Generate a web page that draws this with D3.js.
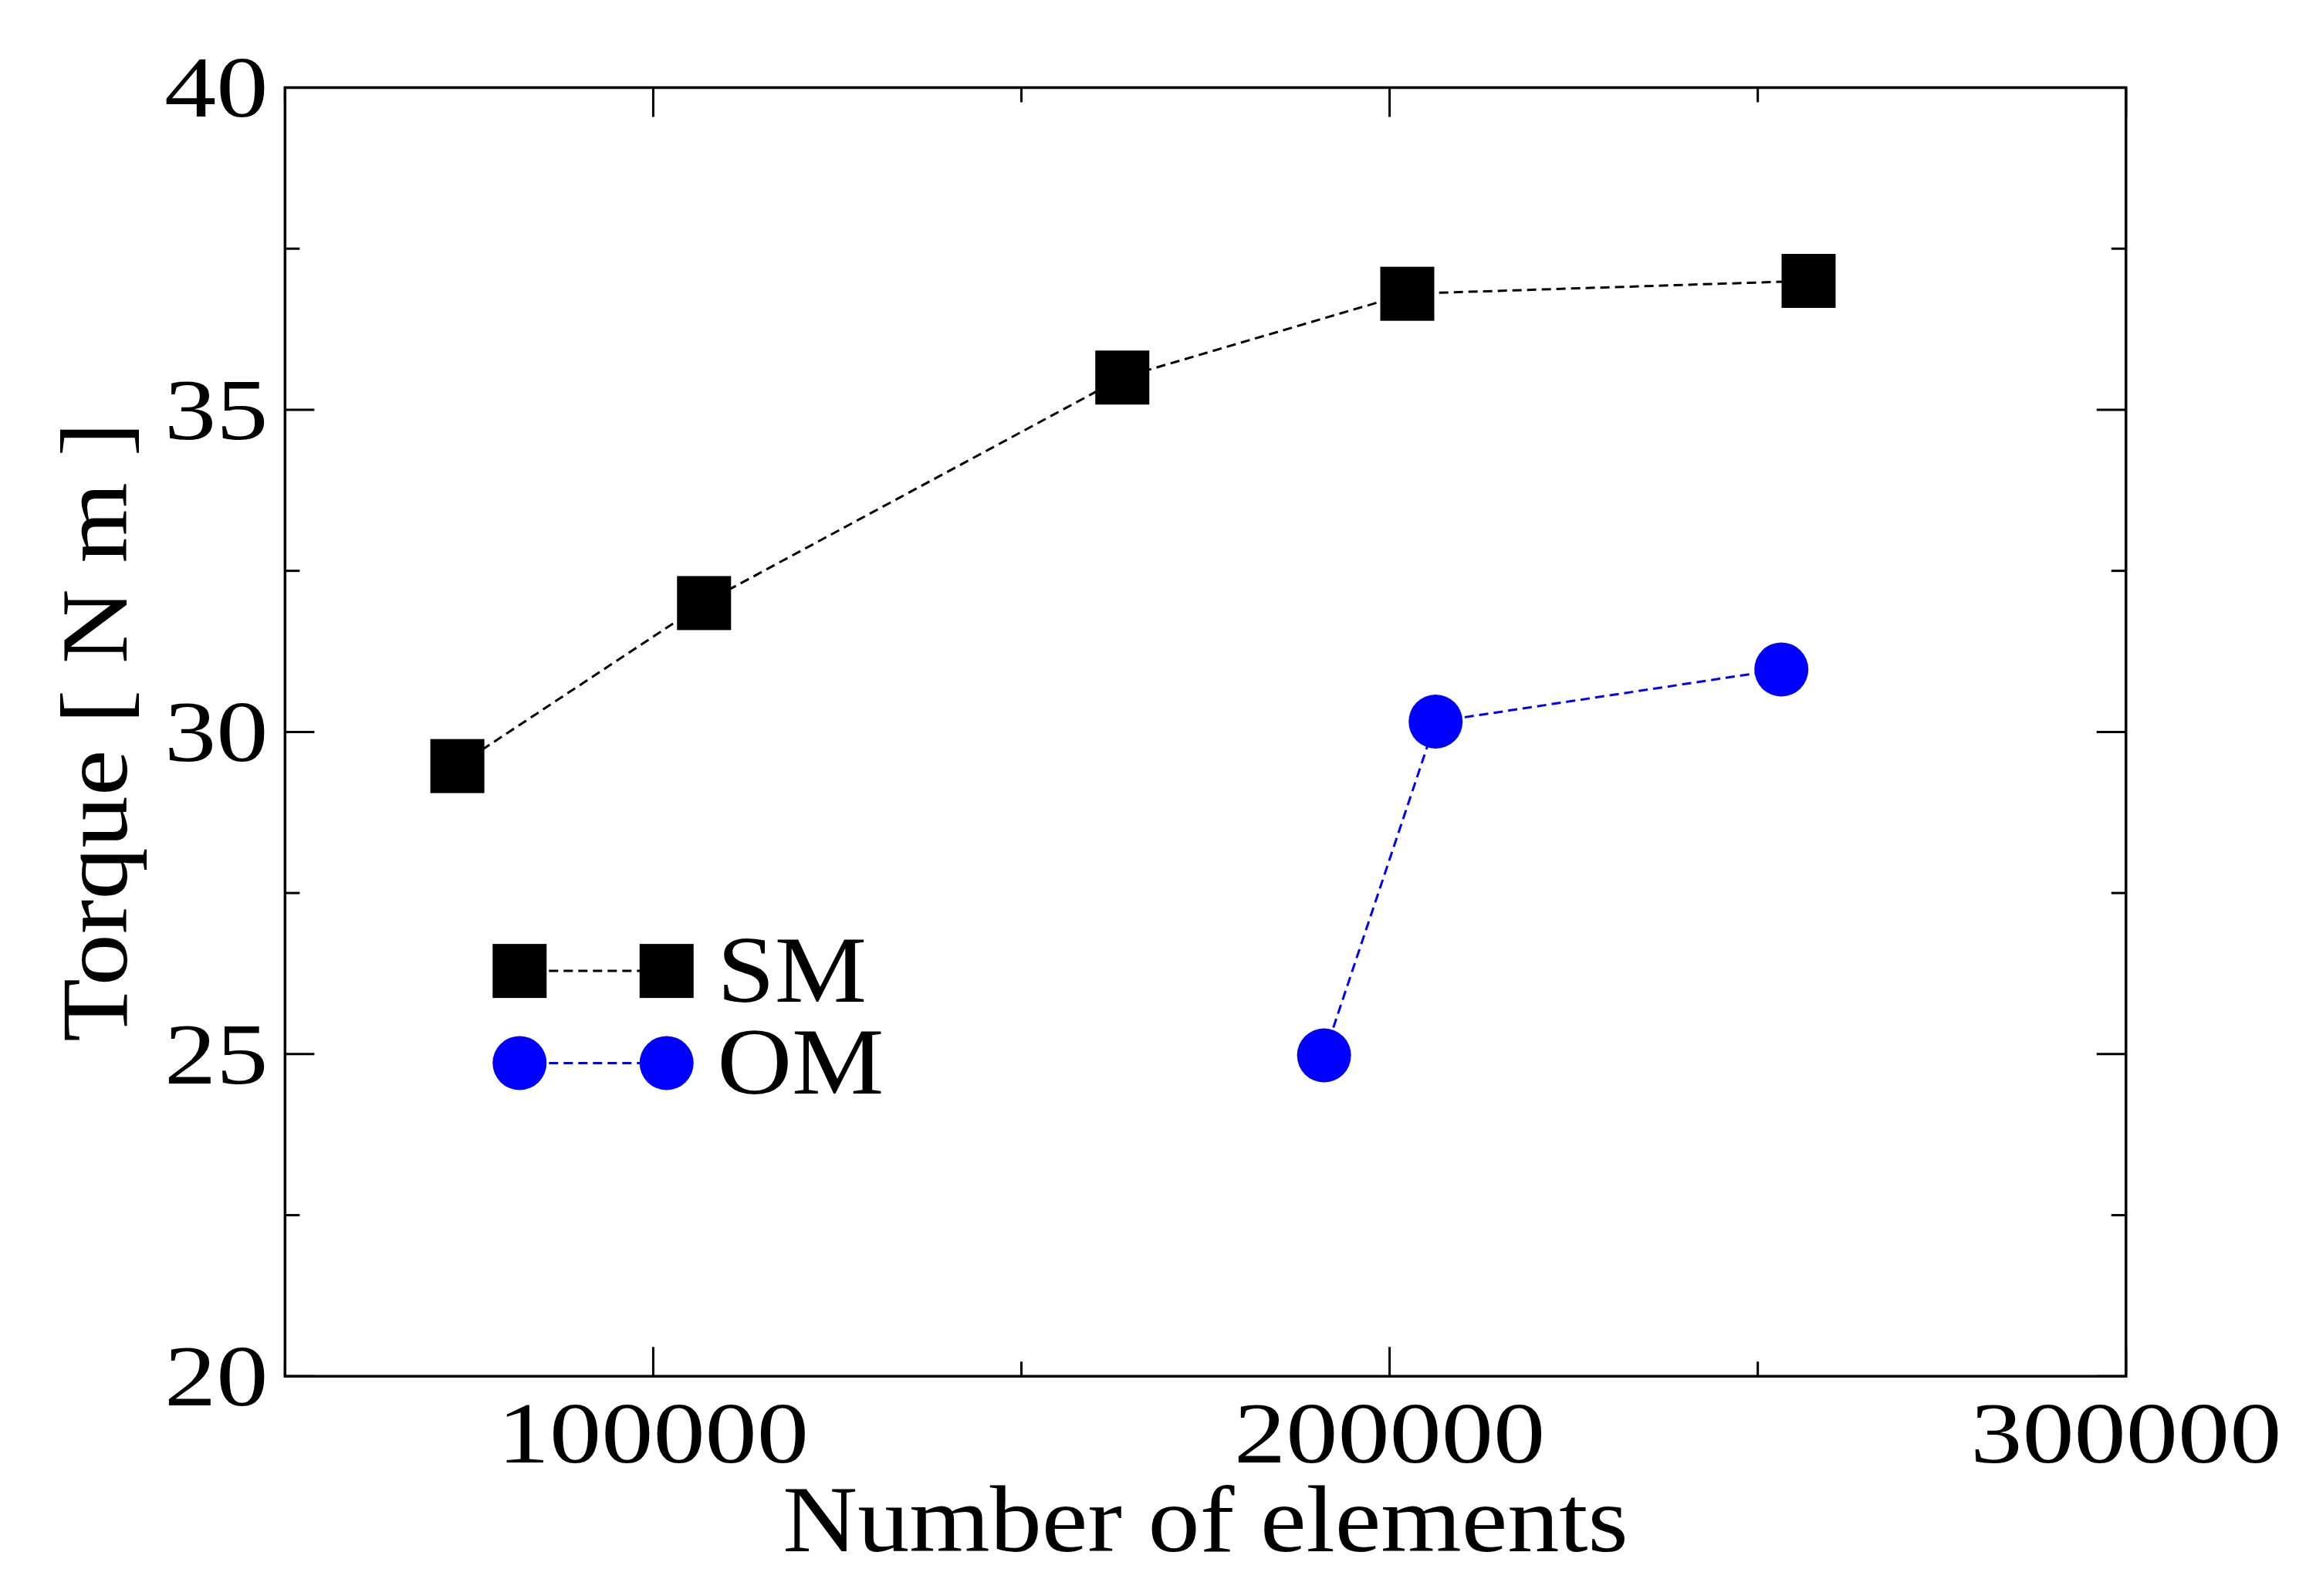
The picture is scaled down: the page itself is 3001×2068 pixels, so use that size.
<!DOCTYPE html><html><head><script src="https://cdn.jsdelivr.net/npm/d3@7"></script>
<style>body{margin:0;background:#fff}text{font-family:"Liberation Serif","DejaVu Serif",serif}</style></head><body>
<svg id="c" width="3001" height="2068"></svg>
<script>
const smX=[73400,106900,163700,202400,256900];
const smY=[29.47,32.0,35.5,36.8,37.0];
const omX=[191100,206250,253200];
const omY=[24.98,30.16,30.97];
const xTicks=[100000,200000,300000];
const yTicks=[20,25,30,35,40];
const s=3001/1560;
const svg=d3.select("#c");
const L=192*s,R=1432*s,T=59*s,B=927*s;
const x=d3.scaleLinear().domain([50000,300000]).range([L,R]);
const y=d3.scaleLinear().domain([20,40]).range([B,T]);
const g=svg.append("g");
const maj=38,mnr=19;
function txt(px,py,size,sx,anchor,str,rot){
  const t=g.append("g").attr("transform",`translate(${px},${py})${rot?" rotate(-90)":""} scale(${sx},1)`);
  t.append("text").attr("text-anchor",anchor).attr("font-size",size).text(str);
}
[50000,100000,150000,200000,250000,300000].forEach(v=>{const len=v%100000===0?maj:mnr;
 g.append("line").attr("x1",x(v)).attr("x2",x(v)).attr("y1",B).attr("y2",B-len).attr("stroke","#000").attr("stroke-width",3);
 g.append("line").attr("x1",x(v)).attr("x2",x(v)).attr("y1",T).attr("y2",T+len).attr("stroke","#000").attr("stroke-width",3);});
d3.range(20,40.01,2.5).forEach(v=>{const len=v%5===0?maj:mnr;
 g.append("line").attr("y1",y(v)).attr("y2",y(v)).attr("x1",L).attr("x2",L+len).attr("stroke","#000").attr("stroke-width",3);
 g.append("line").attr("y1",y(v)).attr("y2",y(v)).attr("x1",R).attr("x2",R-len).attr("stroke","#000").attr("stroke-width",3);});
g.append("rect").attr("x",L).attr("y",T).attr("width",R-L).attr("height",B-T).attr("fill","none").attr("stroke","#000").attr("stroke-width",3.5);
xTicks.forEach(v=>txt(x(v),985*s,112,1.2,"middle",v));
yTicks.forEach(v=>txt(L-22,y(v)+38,112,1.2,"end",v));
txt(812*s,1045*s,122,1.1,"middle","Number of elements");
txt(85*s,493*s,122,1.1,"middle","Torque [ N m ]",true);
const line=d3.line().x(d=>x(d[0])).y(d=>y(d[1]));
const sm=smX.map((v,i)=>[v,smY[i]]), om=omX.map((v,i)=>[v,omY[i]]);
g.append("path").attr("d",line(sm)).attr("fill","none").attr("stroke","#000").attr("stroke-width",3).attr("stroke-dasharray","12,7");
g.append("path").attr("d",line(om)).attr("fill","none").attr("stroke","#00f").attr("stroke-width",3).attr("stroke-dasharray","12,7");
const sq=70,r=35;
sm.forEach(d=>g.append("rect").attr("x",x(d[0])-sq/2).attr("y",y(d[1])-sq/2).attr("width",sq).attr("height",sq).attr("fill","#000"));
om.forEach(d=>g.append("circle").attr("cx",x(d[0])).attr("cy",y(d[1])).attr("r",r).attr("fill","#00f"));
const lx1=350*s,lx2=449*s,ly1=654*s,ly2=716*s;
g.append("line").attr("x1",lx1).attr("x2",lx2).attr("y1",ly1).attr("y2",ly1).attr("stroke","#000").attr("stroke-width",3).attr("stroke-dasharray","12,7");
g.append("line").attr("x1",lx1).attr("x2",lx2).attr("y1",ly2).attr("y2",ly2).attr("stroke","#00f").attr("stroke-width",3).attr("stroke-dasharray","12,7");
[lx1,lx2].forEach(cx=>{g.append("rect").attr("x",cx-sq/2).attr("y",ly1-sq/2).attr("width",sq).attr("height",sq).attr("fill","#000");
 g.append("circle").attr("cx",cx).attr("cy",ly2).attr("r",r).attr("fill","#00f");});
txt(483*s,ly1+40,122,1.1,"start","SM");
txt(483*s,ly2+40,122,1.1,"start","OM");
</script></body></html>
